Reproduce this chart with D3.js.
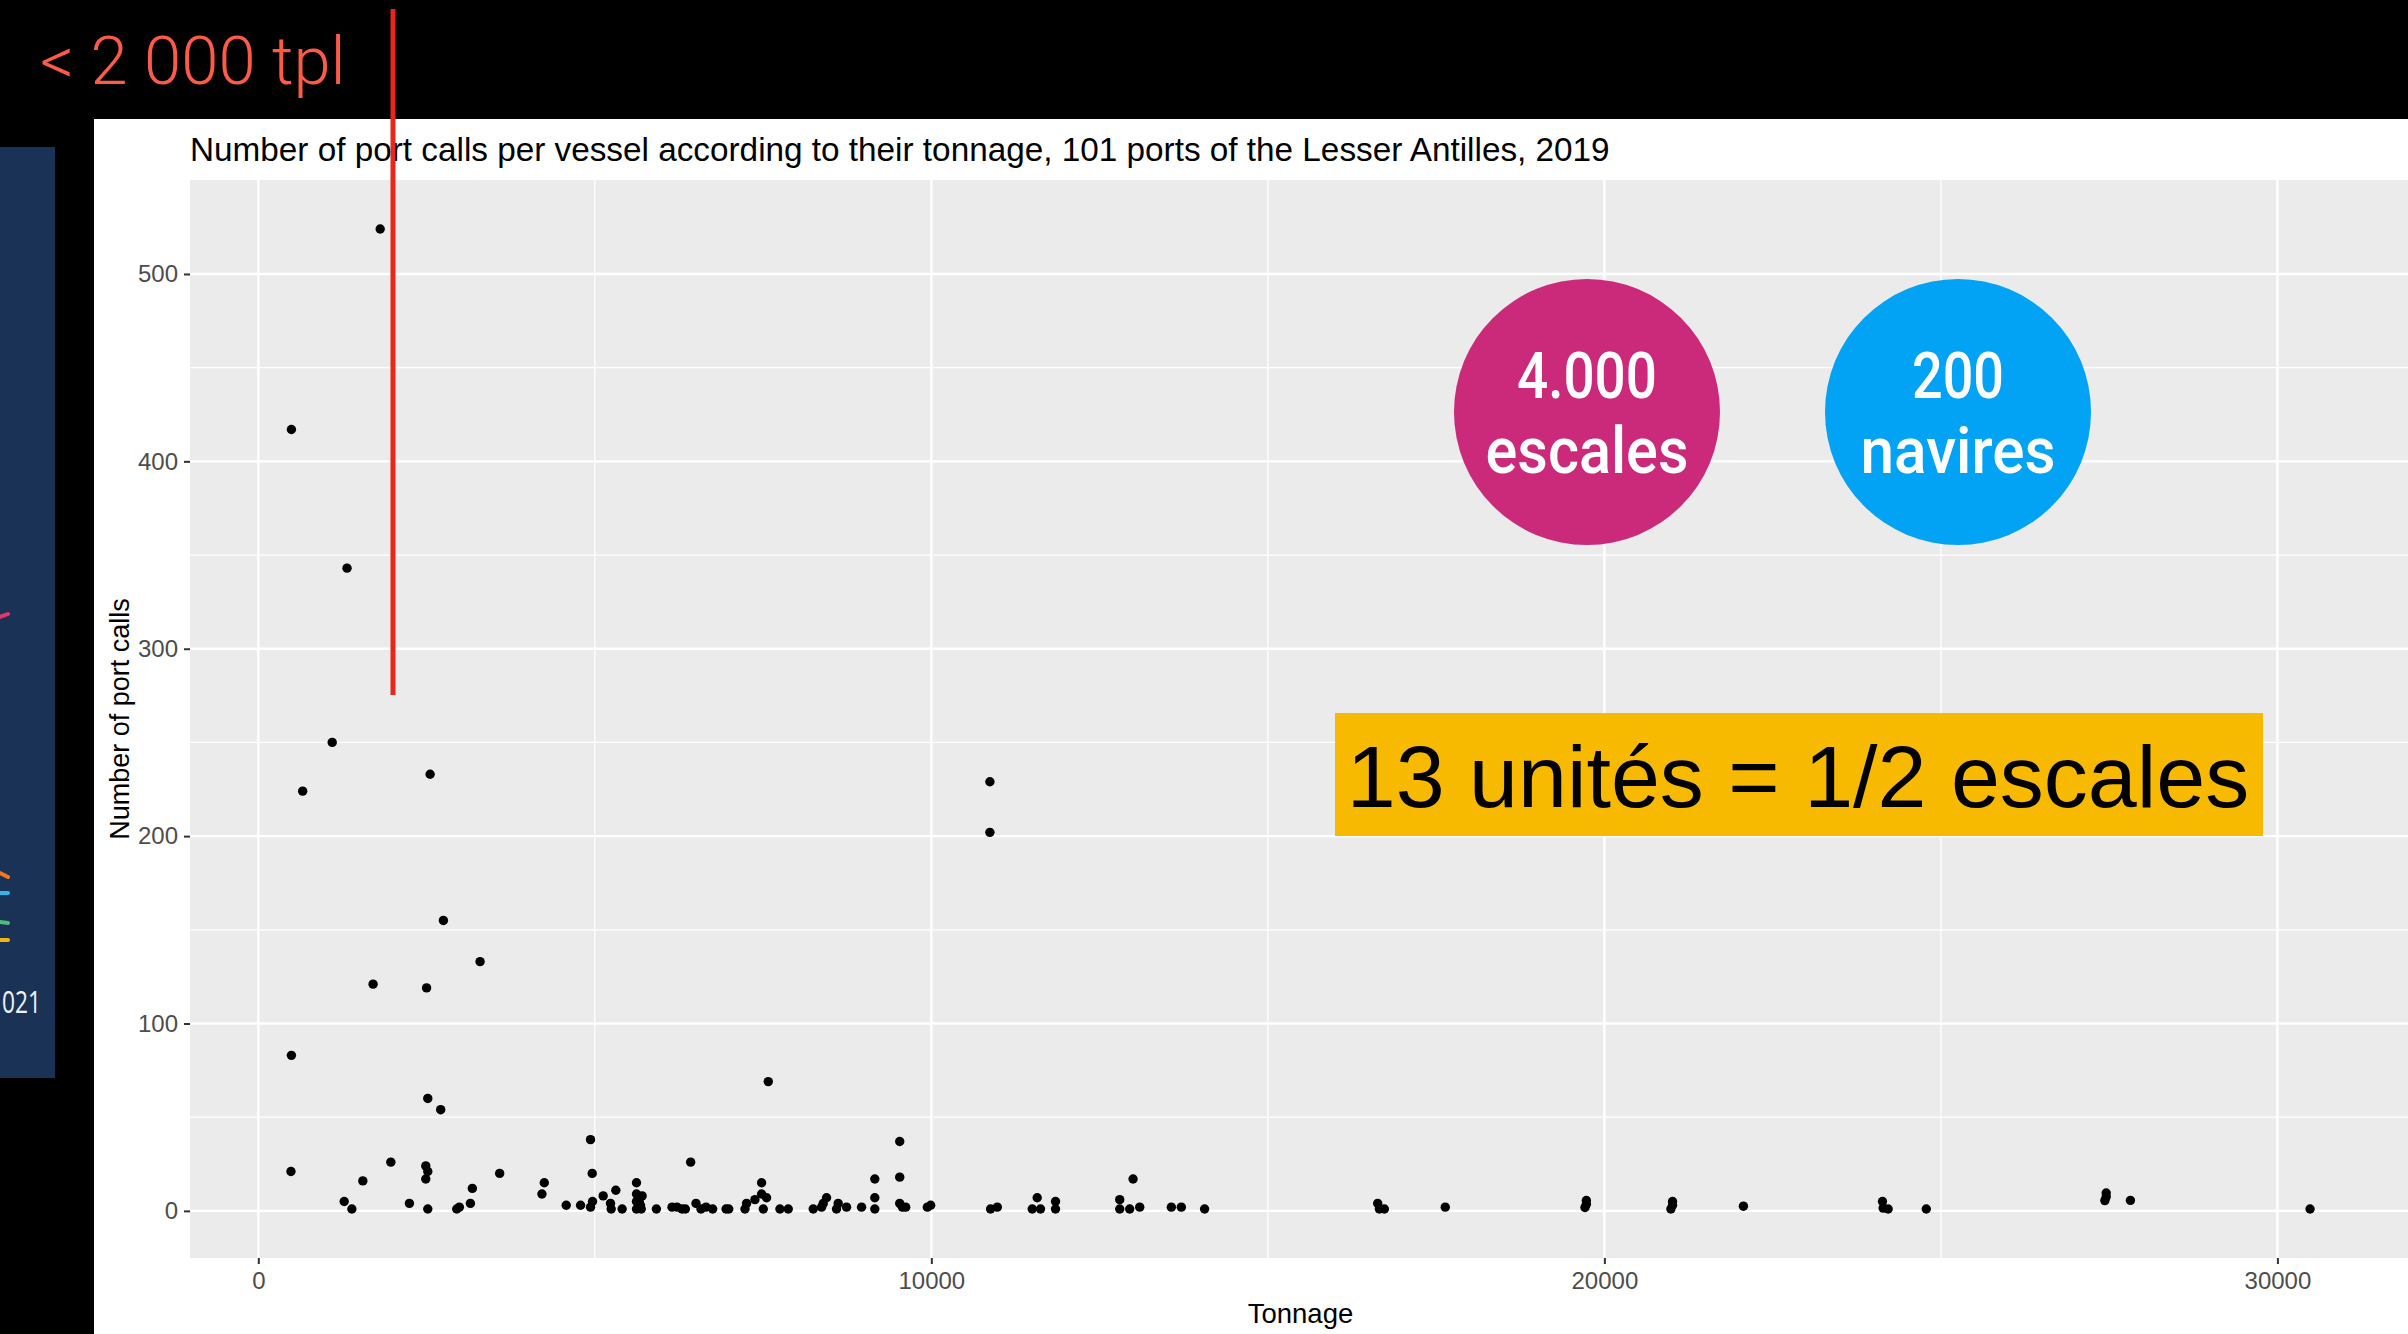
<!DOCTYPE html>
<html>
<head>
<meta charset="utf-8">
<script src="https://cdn.jsdelivr.net/npm/d3@7"></script>
<style>
  html, body { margin: 0; padding: 0; background: #000; }
  svg { display: block; }
</style>
</head>
<body>
<script>
// tonnage (x) and number of port calls (y)
const tonnage = [
  1811, 492, 1318, 1098, 659, 2553, 10870, 10870, 2750, 3295, 1705, 2500, 492,
  485, 1276, 1390, 1553, 1969, 2245, 2488, 2518, 2488, 2518, 2518, 2710, 2948,
  2987, 3151, 3180, 3586, 4249, 4214, 4575, 4788, 4936, 4961, 4936, 4966, 5124,
  5233, 5243, 5312, 5406, 5619, 5619, 5703, 5619, 5678, 5619, 5690, 5660, 5915,
  6147, 6221, 6295, 6345, 6424, 6503, 6577, 6652, 6751, 6950, 6990, 7231, 7255,
  7379, 7478, 7478, 7552, 7503, 7577, 7750, 7874, 8245, 8369, 8394, 8443, 8591,
  8616, 8740, 8963, 9160, 9160, 9160, 9530, 9530, 9530, 9570, 9619, 9941, 9990,
  10880, 10980, 11499, 11573, 11622, 11845, 11845,
  12997, 12799, 12799, 12947, 13096, 13566, 13714, 14060, 16632, 16657, 16731, 17636,
  19732, 19732, 19712, 21013, 21013, 20988, 22066, 24132, 24142, 24216,
  24783, 27456, 27456, 27436, 27816, 30485
];
const portCalls = [
  524, 417, 343, 250, 224, 233, 229, 202, 155, 133, 121, 119, 83,
  21, 5, 1, 16, 26, 4, 24, 21, 17, 1, 60, 54, 1,
  2, 4, 12, 20, 15, 9, 3, 3, 38, 20, 2, 5, 8,
  4, 1, 11, 1, 15, 9, 8, 5, 3, 1, 1, 5, 1,
  2, 2, 1, 1, 26, 4, 1, 2, 1, 1, 1, 1, 4,
  6, 15, 9, 7, 1, 69, 1, 1, 1, 2, 4, 7, 1,
  4, 2, 2, 17, 7, 1, 37, 18, 4, 2, 2, 2, 3,
  1, 2, 1, 7, 1, 5, 1,
  17, 6, 1, 1, 2, 2, 2, 1, 4, 1, 1, 2,
  5.5, 3.5, 1.8, 5, 3, 1, 2.5, 5, 1.5, 1,
  1, 9.5, 7.5, 5.5, 5.6, 1
];
const xTicks = [0, 10000, 20000, 30000];
const xMinor = [5000, 15000, 25000];
const yTicks = [0, 100, 200, 300, 400, 500];
const yMinor = [50, 150, 250, 350, 450];

const titleText = "Number of port calls per vessel according to their tonnage, 101 ports of the Lesser Antilles, 2019";
const bubbleLines = [["4.000", "escales"], ["200", "navires"]];
const bannerText = "13 unités = 1/2 escales";
const headText = "< 2 000 tpl";

const W = 2408, H = 1334;
const svg = d3.select("body").append("svg").attr("width", W).attr("height", H);
svg.append("rect").attr("width", W).attr("height", H).attr("fill", "#000");

// bit of the previous slide showing on the left
svg.append("rect").attr("x", 0).attr("y", 147).attr("width", 55).attr("height", 931).attr("fill", "#1b3257");
const legendBits = [
  { y: 617, dy: -3, c: "#e8336b" },
  { y: 873, dy: 4, c: "#f07a1a" },
  { y: 893, dy: 0, c: "#2fb5e8" },
  { y: 922, dy: 1, c: "#4dbb7a" },
  { y: 940, dy: 0, c: "#f3b21a" }
];
svg.selectAll("line.leg").data(legendBits).join("line")
  .attr("x1", 0).attr("x2", 8)
  .attr("y1", (d) => d.y).attr("y2", (d) => d.y + d.dy)
  .attr("stroke", (d) => d.c).attr("stroke-width", 4).attr("stroke-linecap", "round");
svg.append("text").attr("x", 2).attr("y", 1013)
  .attr("font-family", "Open Sans").attr("font-size", 31)
  .attr("textLength", 39).attr("lengthAdjust", "spacingAndGlyphs")
  .attr("fill", "#eef2f7").text("021");

// the ggplot image
svg.append("rect").attr("x", 94).attr("y", 119).attr("width", W - 94).attr("height", H - 119).attr("fill", "#fff");

const pL = 190, pR = 2411, pT = 180, pB = 1258;
const xExt = d3.extent(tonnage), yExt = d3.extent(portCalls);
const xPad = (xExt[1] - xExt[0]) * 0.05, yPad = (yExt[1] - yExt[0]) * 0.05;
const x = d3.scaleLinear().domain([xExt[0] - xPad, xExt[1] + xPad]).range([pL, pR]);
const y = d3.scaleLinear().domain([yExt[0] - yPad, yExt[1] + yPad]).range([pB, pT]);

svg.append("rect").attr("x", pL).attr("y", pT).attr("width", pR - pL).attr("height", pB - pT).attr("fill", "#ebebeb");

const grid = svg.append("g").attr("stroke", "#fff");
grid.selectAll("line.ymin").data(yMinor).join("line")
  .attr("x1", pL).attr("x2", pR).attr("y1", (d) => y(d)).attr("y2", (d) => y(d)).attr("stroke-width", 1.3);
grid.selectAll("line.xmin").data(xMinor).join("line")
  .attr("y1", pT).attr("y2", pB).attr("x1", (d) => x(d)).attr("x2", (d) => x(d)).attr("stroke-width", 1.3);
grid.selectAll("line.ymaj").data(yTicks).join("line")
  .attr("x1", pL).attr("x2", pR).attr("y1", (d) => y(d)).attr("y2", (d) => y(d)).attr("stroke-width", 2.4);
grid.selectAll("line.xmaj").data(xTicks).join("line")
  .attr("y1", pT).attr("y2", pB).attr("x1", (d) => x(d)).attr("x2", (d) => x(d)).attr("stroke-width", 2.4);

// axes
const xAxis = svg.append("g").attr("transform", `translate(0,${pB})`)
  .call(d3.axisBottom(x).tickValues(xTicks).tickSize(6).tickPadding(8).tickFormat(d3.format("d")));
const yAxis = svg.append("g").attr("transform", `translate(${pL},0)`)
  .call(d3.axisLeft(y).tickValues(yTicks).tickSize(6).tickPadding(6).tickFormat(d3.format("d")));
[xAxis, yAxis].forEach((a) => {
  a.select(".domain").remove();
  a.selectAll(".tick line").attr("stroke", "#333").attr("stroke-width", 2);
  a.selectAll(".tick text").attr("fill", "#4d4d4d").attr("font-size", 24).attr("font-family", "Liberation Sans, Arial, sans-serif");
});

svg.append("g").selectAll("circle").data(tonnage).join("circle")
  .attr("cx", (d) => x(d))
  .attr("cy", (d, i) => y(portCalls[i]))
  .attr("r", 4.7)
  .attr("fill", "#000");

const font = "Liberation Sans, Arial, sans-serif";
svg.append("text").attr("x", 190).attr("y", 161).attr("font-family", font).attr("font-size", 33.3).attr("fill", "#000").text(titleText);
svg.append("text").attr("x", (pL + pR) / 2).attr("y", 1323).attr("text-anchor", "middle")
  .attr("font-family", font).attr("font-size", 27.5).attr("fill", "#000").text("Tonnage");
svg.append("text").attr("transform", `translate(129,${(pT + pB) / 2}) rotate(-90)`).attr("text-anchor", "middle")
  .attr("font-family", font).attr("font-size", 27).attr("fill", "#000").text("Number of port calls");

// slide overlays
const bubbles = [{ cx: 1587, c: "#cb2a7b" }, { cx: 1958, c: "#02a3f5" }];
const bub = svg.selectAll("g.bub").data(bubbles).join("g");
bub.append("circle").attr("cx", (d) => d.cx).attr("cy", 412).attr("r", 133).attr("fill", (d) => d.c);
bub.each(function (d, i) {
  const g = d3.select(this);
  const lines = bubbleLines[i];
  const lens = [[140, 203], [92, 195]][i];
  lines.forEach((t, k) => {
    g.append("text").attr("x", d.cx).attr("y", k ? 473 : 398).attr("text-anchor", "middle")
      .attr("font-family", "Roboto").attr("font-weight", 500).attr("font-size", 64)
      .attr("textLength", lens[k]).attr("lengthAdjust", "spacingAndGlyphs")
      .attr("fill", "#fff").text(t);
  });
});

svg.append("rect").attr("x", 1335).attr("y", 713).attr("width", 928).attr("height", 123).attr("fill", "#f8ba00");
svg.append("text").attr("x", 1798).attr("y", 807).attr("text-anchor", "middle")
  .attr("font-family", font).attr("font-size", 88).attr("fill", "#000").text(bannerText);

svg.append("text").attr("x", 40).attr("y", 84).attr("font-family", "Roboto").attr("font-weight", 300)
  .attr("font-size", 67).attr("fill", "#ff5a48").text(headText);
svg.append("line").attr("x1", 393).attr("x2", 393).attr("y1", 9).attr("y2", 695)
  .attr("stroke", "#e8261c").attr("stroke-width", 5);
</script>
</body>
</html>
